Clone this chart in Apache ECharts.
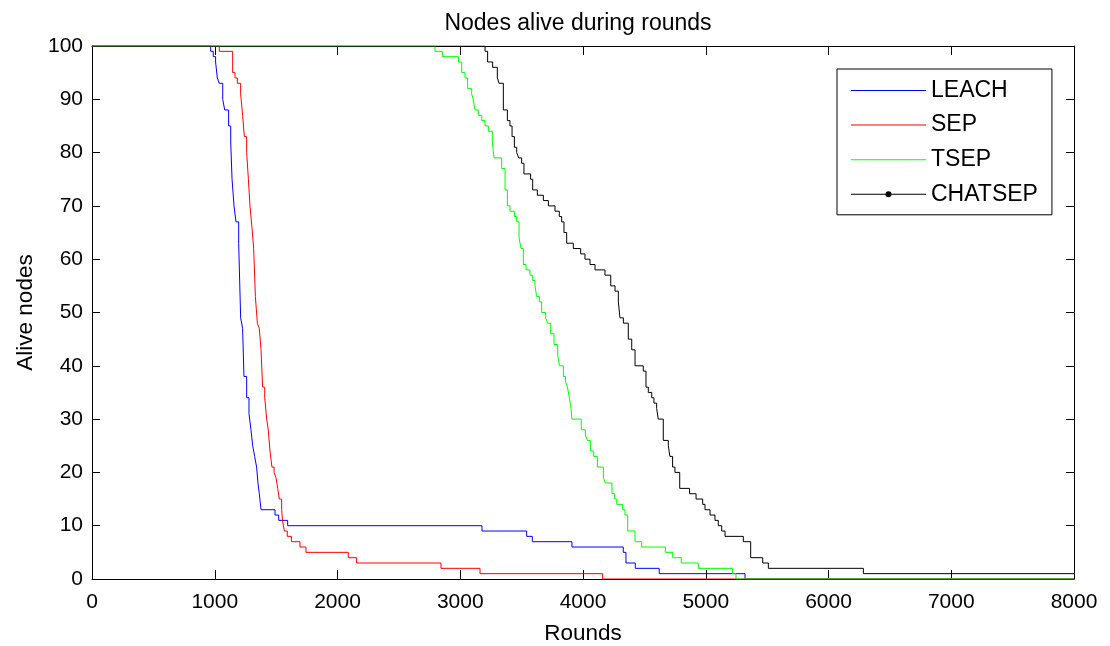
<!DOCTYPE html>
<html>
<head>
<meta charset="utf-8">
<script src="https://cdn.jsdelivr.net/npm/echarts@6/dist/echarts.min.js"></script>
<style>html,body{margin:0;padding:0;background:#fff;}#c{width:1110px;height:646px;}</style>
</head>
<body>
<div id="c"></div>
<script>
const seriesNames = ['LEACH', 'SEP', 'TSEP', 'CHATSEP'];
const xTicks = [0, 1000, 2000, 3000, 4000, 5000, 6000, 7000, 8000];
const yTicks = [0, 10, 20, 30, 40, 50, 60, 70, 80, 90, 100];

const leachRounds = [0, 967, 988, 1007, 1021, 1037, 1065, 1081, 1113, 1130, 1141, 1157, 1173, 1195, 1211, 1227, 1238, 1260, 1279, 1295, 1309, 1325, 1341, 1352, 1363, 1377, 1491, 1521, 1594, 3177, 3541, 3587, 3910, 4328, 4350, 4426, 4621, 5320, 8000];
const leachAlive  = [100, 99, 98, 97, 94, 93, 90, 88, 85, 82, 75, 70, 67, 63, 49, 47, 38, 34, 31, 28, 25, 23, 21, 18, 16, 13, 12, 11, 10, 9, 8, 7, 6, 5, 3, 2, 1, 0, 0];

const sepRounds = [0, 1037, 1146, 1165, 1184, 1211, 1227, 1241, 1260, 1274, 1287, 1303, 1317, 1331, 1347, 1363, 1377, 1390, 1407, 1423, 1436, 1450, 1466, 1483, 1499, 1513, 1526, 1545, 1552, 1567, 1591, 1624, 1694, 1743, 2088, 2156, 2843, 3161, 4160, 8000];
const sepAlive  = [100, 99, 95, 94, 93, 91, 87, 83, 80, 75, 70, 66, 62, 53, 48, 47, 43, 36, 34, 30, 28, 24, 21, 20, 19, 17, 15, 13, 11, 9, 8, 7, 6, 5, 4, 3, 2, 1, 0, 0];

const tsepRounds = [0, 2794, 2854, 2985, 3012, 3039, 3060, 3093, 3106, 3120, 3147, 3175, 3202, 3229, 3261, 3275, 3337, 3365, 3384, 3405, 3441, 3460, 3479, 3495, 3514, 3536, 3568, 3590, 3609, 3622, 3644, 3663, 3696, 3712, 3737, 3764, 3794, 3808, 3840, 3857, 3873, 3889, 3902, 3910, 3986, 4019, 4035, 4060, 4087, 4117, 4166, 4182, 4236, 4258, 4275, 4323, 4342, 4364, 4424, 4478, 4671, 4731, 4801, 4939, 5219, 5246, 8000];
const tsepAlive  = [100, 99, 98, 97, 95, 94, 92, 91, 90, 88, 87, 86, 85, 84, 82, 79, 77, 73, 70, 69, 68, 67, 64, 62, 59, 58, 57, 56, 55, 53, 52, 50, 49, 48, 46, 44, 42, 40, 38, 37, 36, 34, 32, 30, 28, 27, 26, 24, 23, 21, 19, 18, 16, 15, 14, 13, 12, 9, 7, 6, 5, 4, 3, 2, 1, 0, 0];

const chatsepRounds = [0, 3202, 3223, 3264, 3302, 3316, 3351, 3384, 3405, 3422, 3441, 3460, 3476, 3500, 3519, 3573, 3590, 3628, 3677, 3718, 3772, 3807, 3826, 3845, 3867, 3921, 3981, 4016, 4057, 4098, 4179, 4226, 4261, 4288, 4301, 4329, 4369, 4397, 4424, 4491, 4513, 4532, 4560, 4578, 4600, 4613, 4654, 4695, 4708, 4730, 4749, 4788, 4868, 4921, 4975, 4994, 5035, 5075, 5102, 5130, 5157, 5306, 5366, 5464, 5510, 6284, 8000];
const chatsepAlive  = [100, 99, 97, 96, 94, 93, 88, 86, 85, 83, 81, 80, 79, 78, 76, 75, 73, 72, 71, 70, 69, 68, 67, 65, 63, 62, 61, 60, 59, 58, 57, 55, 54, 52, 49, 48, 45, 43, 40, 39, 36, 35, 34, 33, 32, 30, 26, 25, 23, 21, 20, 17, 16, 15, 14, 13, 12, 11, 10, 9, 8, 7, 4, 3, 2, 1, 1];

const colors = ['#0000ff', '#ff0000', '#00ff00', '#000000'];
const zip = (a, b) => a.map((x, i) => [x, b[i]]);
const allData = [zip(leachRounds, leachAlive), zip(sepRounds, sepAlive), zip(tsepRounds, tsepAlive), zip(chatsepRounds, chatsepAlive)];

const FONT = '"Liberation Sans", Arial, sans-serif';
const LINE_ICON = 'path://M0,10 L300,10 L300,14 L0,14 Z M0,0 L0,0 M0,24 L0,24';
const DOT_ICON = 'path://M0,10 L300,10 L300,14 L0,14 Z M138,12 A12,12 0 1,1 162,12 A12,12 0 1,1 138,12 Z';
const chart = echarts.init(document.getElementById('c'), null, {renderer: 'canvas'});

const baseX = {
  type: 'value', min: xTicks[0], max: xTicks[xTicks.length - 1], interval: 1000,
  axisLine: {show: true, onZero: false, lineStyle: {color: '#000', width: 1}},
  splitLine: {show: false}
};
const baseY = {
  type: 'value', min: yTicks[0], max: yTicks[yTicks.length - 1], interval: 10,
  axisLine: {show: true, onZero: false, lineStyle: {color: '#000', width: 1}},
  splitLine: {show: false}
};

chart.setOption({
  animation: false,
  backgroundColor: '#fff',
  title: {
    text: 'Nodes alive during rounds', left: 573, textAlign: 'center', top: 7,
    textStyle: {fontFamily: FONT, fontSize: 23, fontWeight: 'normal', color: '#000'}
  },
  grid: {left: 92, right: 36, top: 46, bottom: 67, containLabel: false, outerBoundsMode: 'none'},
  legend: {
    orient: 'vertical', left: 837, top: 69,
    data: seriesNames.map((n, i) => ({
      name: n, icon: i === 3 ? DOT_ICON : LINE_ICON,
      itemStyle: {color: colors[i], borderWidth: 0, opacity: 1}
    })),
    symbolKeepAspect: true,
    backgroundColor: '#fff', borderColor: '#000', borderWidth: 1,
    padding: [10, 14, 9, 14], itemGap: 11.6, itemWidth: 75, itemHeight: 8,
    textStyle: {fontFamily: FONT, fontSize: 23, color: '#000', lineHeight: 22}
  },
  xAxis: [
    Object.assign({}, baseX, {
      position: 'bottom', name: 'Rounds', nameLocation: 'middle', nameGap: 43,
      nameTextStyle: {fontFamily: FONT, fontSize: 22.5, color: '#000'},
      axisTick: {show: true, inside: true, length: 9, lineStyle: {color: '#000'}},
      axisLabel: {fontFamily: FONT, fontSize: 21, color: '#000', margin: 13, formatter: v => String(v)}
    }),
    Object.assign({}, baseX, {
      position: 'top',
      axisTick: {show: true, inside: true, length: 9, lineStyle: {color: '#000'}},
      axisLabel: {show: false}
    })
  ],
  yAxis: [
    Object.assign({}, baseY, {
      position: 'left', name: 'Alive nodes', nameLocation: 'middle', nameGap: 51,
      nameTextStyle: {fontFamily: FONT, fontSize: 22.5, color: '#000'},
      axisTick: {show: true, inside: true, length: 8, lineStyle: {color: '#000'}},
      axisLabel: {fontFamily: FONT, fontSize: 21, color: '#000', margin: 9, formatter: v => String(v)}
    }),
    Object.assign({}, baseY, {
      position: 'right',
      axisTick: {show: true, inside: true, length: 8, lineStyle: {color: '#000'}},
      axisLabel: {show: false}
    })
  ],
  series: seriesNames.map((name, i) => ({
    name: name, type: 'line', step: 'end',
    data: allData[i],
    xAxisIndex: 0, yAxisIndex: 0,
    symbol: 'none',
    showSymbol: false,
    lineStyle: {color: colors[i], width: 1},
    itemStyle: {color: colors[i]},
    emphasis: {disabled: true},
    z: 2 + i
  }))
});
</script>
</body>
</html>
